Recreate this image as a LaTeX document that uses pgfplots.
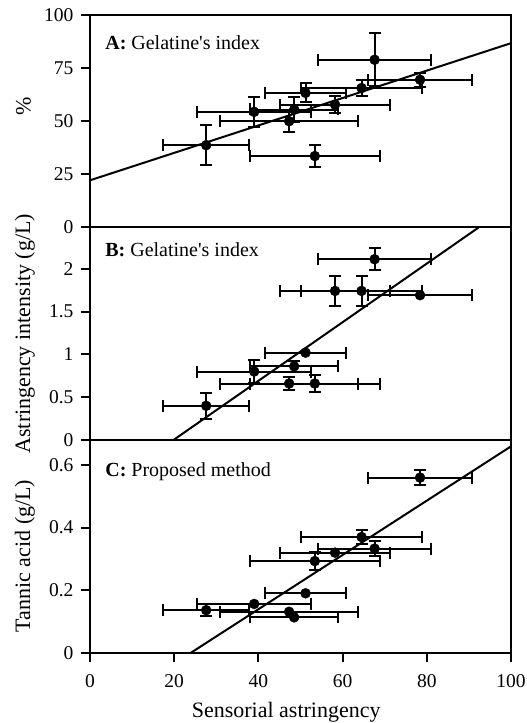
\documentclass[border=0pt]{standalone}
\usepackage{fontspec}
\setmainfont{Liberation Serif}
\usepackage{pgfplots}
\pgfplotsset{compat=1.18}
\usepackage{pgfplotstable}

\pgfplotstableread{
x ex yA eA yB eB yC eC
27.6 10.2 38.7 9.3 0.40 0.15 0.136 0.020
39.0 13.5 54.4 7.1 0.80 0.13 0.156 0.0
47.3 16.4 50.0 5.0 0.66 0.08 0.131 0.0
48.5 10.4 55.5 5.7 0.86 0.06 0.113 0.0
51.2 9.6 63.3 4.5 1.02 0.0 0.190 0.0
53.4 15.5 33.6 5.0 0.66 0.10 0.293 0.028
58.2 13.1 57.8 3.9 1.74 0.18 0.320 0.0
64.5 14.4 65.6 3.8 1.74 0.18 0.370 0.023
67.6 13.4 78.9 12.4 2.11 0.13 0.333 0.025
78.4 12.3 69.5 3.2 1.69 0.0 0.560 0.024
}\data

\pgfplotsset{
  panel/.style={
    scale only axis, width=421pt, height=212.6pt, xmin=0, xmax=100,
    axis line style={line width=2pt},
    tick align=outside, major tick length=9pt,
    tick style={line width=2pt, black},
    ytick pos=left, xtick pos=bottom,
    tick label style={font=\fontsize{19.5}{22}\selectfont},
    yticklabel style={xshift=-4pt},
    xticklabel style={yshift=-9pt},
    /pgf/number format/assume math mode=true,
    /pgf/number format/fixed,
    every axis y label/.style={at={(axis description cs:-0.155,0.5)}, rotate=90, anchor=center, font=\fontsize{22}{26}\selectfont},
  },
  errs/.style={only marks, mark=*, mark size=5pt, black,
    error bars/.cd, x dir=both, x explicit, y dir=both, y explicit,
    error bar style={line width=2pt, black},
    error mark options={rotate=90, line width=2pt, mark size=6pt, black}},
}

\begin{document}
\begin{tikzpicture}
\path[use as bounding box] (0pt,0pt) rectangle (527pt,723pt);

% Panel A
\begin{axis}[panel, at={(90pt,495.5pt)}, anchor=south west,
  ymin=0, ymax=100, ytick={0,25,50,75,100}, xtick=\empty,
  ylabel={\%}, every axis y label/.append style={at={(axis description cs:-0.158,0.57)}}]
\addplot[errs] table[x=x, y=yA, x error=ex, y error=eA] {\data};
\addplot[black, line width=2pt] coordinates {(0,22.2) (100,86.7)};
\node[anchor=base west, font=\fontsize{20}{24}\selectfont] at (rel axis cs:0.028,0.836) {\textbf{A:} Gelatine\textquotesingle s index};
\end{axis}

% Panel B
\begin{axis}[panel, at={(90pt,282.9pt)}, anchor=south west,
  ymin=0, ymax=2.48, ytick={0,0.5,1,1.5,2}, xtick=\empty,
  ylabel={Astringency intensity (g/L)}]
\addplot[errs] table[x=x, y=yB, x error=ex, y error=eB] {\data};
\addplot[black, line width=2pt] coordinates {(19.8,0) (92.3,2.48)};
\node[anchor=base west, font=\fontsize{20}{24}\selectfont] at (rel axis cs:0.028,0.863) {\textbf{B:} Gelatine\textquotesingle s index};
\end{axis}

% Panel C
\begin{axis}[panel, at={(90pt,70.3pt)}, anchor=south west,
  ymin=0, ymax=0.68, ytick={0,0.2,0.4,0.6}, xtick={0,20,40,60,80,100},
  ylabel={Tannic acid (g/L)}, every axis y label/.append style={at={(axis description cs:-0.155,0.455)}},
  xlabel={Sensorial astringency},
  every axis x label/.style={at={(axis description cs:0.466,0)}, anchor=base, yshift=-65pt, font=\fontsize{22}{26}\selectfont}]
\addplot[errs] table[x=x, y=yC, x error=ex, y error=eC] {\data};
\addplot[black, line width=2pt] coordinates {(24,0) (100,0.66)};
\node[anchor=base west, font=\fontsize{20}{24}\selectfont] at (rel axis cs:0.028,0.827) {\textbf{C:} Proposed method};
\end{axis}
\end{tikzpicture}
\end{document}
